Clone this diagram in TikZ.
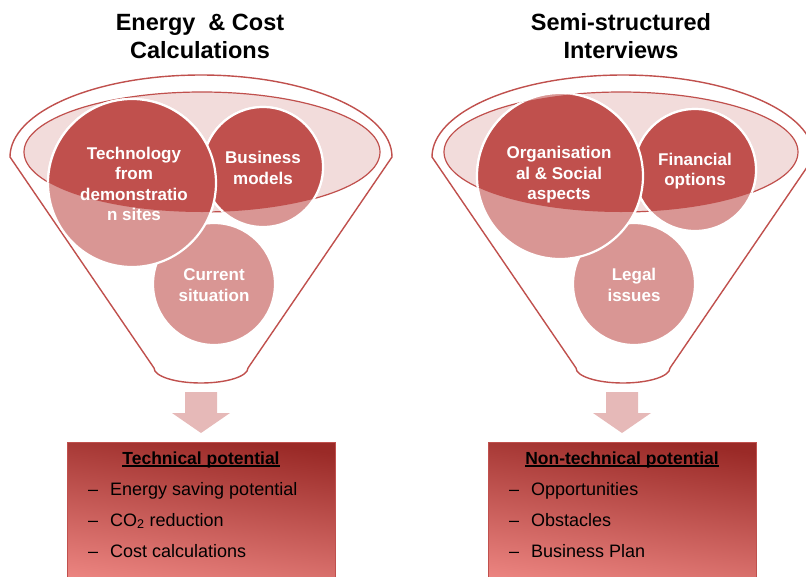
\documentclass[tikz,border=0pt]{standalone}
\usepackage{fontspec}
\setmainfont{Liberation Sans}
\definecolor{accent}{HTML}{C0504D}
\definecolor{lightc}{HTML}{D99694}
\definecolor{rimfill}{HTML}{F2DCDB}
\definecolor{arrowc}{HTML}{E6B9B8}
\definecolor{boxtop}{HTML}{9A2A27}
\definecolor{boxbot}{HTML}{EE8783}
\newcommand\myul[1]{\setbox0\hbox{#1}\rlap{\rule[-2.6pt]{\wd0}{1.3pt}}\box0}
\newcommand\myfunnel[1]{%
  \draw[funnelline] ({#1-191},157) arc[start angle=180,end angle=0,x radius=191pt,y radius=82pt]
    -- ({#1+47},368) arc[start angle=0,end angle=-180,x radius=47pt,y radius=15pt] -- cycle;}
\begin{document}
\begin{tikzpicture}[x=1pt,y=-1pt,
  funnelline/.style={draw=accent,line width=1.4pt,fill=white,line join=round},
  rim/.style={fill=rimfill,draw=accent,line width=1.2pt},
  lightball/.style={fill=lightc,draw=white,line width=2.2pt},
  darkball/.style={fill=accent,draw=white,line width=2.2pt},
  balltext/.style={text=white,align=center,font=\bfseries\fontsize{17}{20.5}\selectfont,inner sep=0pt},
  titletext/.style={anchor=base,font=\bfseries\fontsize{23.5}{28}\selectfont,inner sep=0pt},
  blockarrow/.style={fill=arrowc},
  resultbox/.style={draw=accent,line width=0.8pt,top color=boxtop,bottom color=boxbot,shading angle=-8,
    anchor=north west,minimum width=268pt,minimum height=150pt,inner sep=0pt},
  boxtitle/.style={anchor=base,font=\bfseries\fontsize{17.5}{21}\selectfont,inner sep=0pt},
  boxitem/.style={anchor=base west,font=\fontsize{18}{21}\selectfont,inner sep=0pt}]
\useasboundingbox (0,0) rectangle (806,576);
\clip (0,0) rectangle (806,576);

% titles
\node[titletext] (t1a) at (200,30) {Energy~~\& Cost};
\node[titletext] (t1b) at (200,58) {Calculations};
\node[titletext] (t2a) at (621,30) {Semi-structured};
\node[titletext] (t2b) at (621,58) {Interviews};

% funnels
\myfunnel{201}
\myfunnel{623}
\path[rim] (202,152) ellipse[x radius=178pt,y radius=60pt];
\path[rim] (621,152) ellipse[x radius=177pt,y radius=60pt];

% light balls
\path[lightball] (214,284) circle[radius=61pt];
\path[lightball] (263,167) circle[radius=60pt];
\path[lightball] (132,183) circle[radius=84pt];
\path[lightball] (634,284) circle[radius=61pt];
\path[lightball] (695,170) circle[radius=61pt];
\path[lightball] (560,176) circle[radius=83pt];

% dark parts inside the rims
\begin{scope}
  \clip (202,152) ellipse[x radius=178pt,y radius=60pt];
  \path[darkball] (214,284) circle[radius=61pt];
  \path[darkball] (263,167) circle[radius=60pt];
  \path[darkball] (132,183) circle[radius=84pt];
\end{scope}
\begin{scope}
  \clip (621,152) ellipse[x radius=177pt,y radius=60pt];
  \path[darkball] (634,284) circle[radius=61pt];
  \path[darkball] (695,170) circle[radius=61pt];
  \path[darkball] (560,176) circle[radius=83pt];
\end{scope}

% ball labels
\node[balltext] (tech) at (134,184) {Technology\\from\\demonstratio\\n sites};
\node[balltext] (bus) at (263,168) {Business\\models};
\node[balltext] (cur) at (214,285) {Current\\situation};
\node[balltext] (org) at (559,175) {Organisation\\al \& Social\\aspects};
\node[balltext] (fin) at (695,171) {Financial\\options};
\node[balltext] (leg) at (634,285) {Legal\\issues};

% block arrows
\path[blockarrow] (185,392) -- (217,392) -- (217,413) -- (230,413) -- (201,433) -- (172,413) -- (185,413) -- cycle;
\path[blockarrow] (606,392) -- (638,392) -- (638,413) -- (651,413) -- (622,433) -- (593,413) -- (606,413) -- cycle;

% result boxes
\node[resultbox] (techbox) at (67,442) {};
\node[resultbox] (nontechbox) at (488,442) {};

\node[boxtitle] (techtitle) at (201,464) {\myul{Technical potential}};
\node[boxitem] (d1) at (88,495) {--};
\node[boxitem] (i1) at (110,495) {Energy saving potential};
\node[boxitem] (d2) at (88,526) {--};
\node[boxitem] (i2) at (110,526) {CO\textsubscript{2} reduction};
\node[boxitem] (d3) at (88,557) {--};
\node[boxitem] (i3) at (110,557) {Cost calculations};

\node[boxtitle] (nontechtitle) at (622,464) {\myul{Non-technical potential}};
\node[boxitem] (e1) at (509,495) {--};
\node[boxitem] (j1) at (531,495) {Opportunities};
\node[boxitem] (e2) at (509,526) {--};
\node[boxitem] (j2) at (531,526) {Obstacles};
\node[boxitem] (e3) at (509,557) {--};
\node[boxitem] (j3) at (531,557) {Business Plan};
\end{tikzpicture}
\end{document}
